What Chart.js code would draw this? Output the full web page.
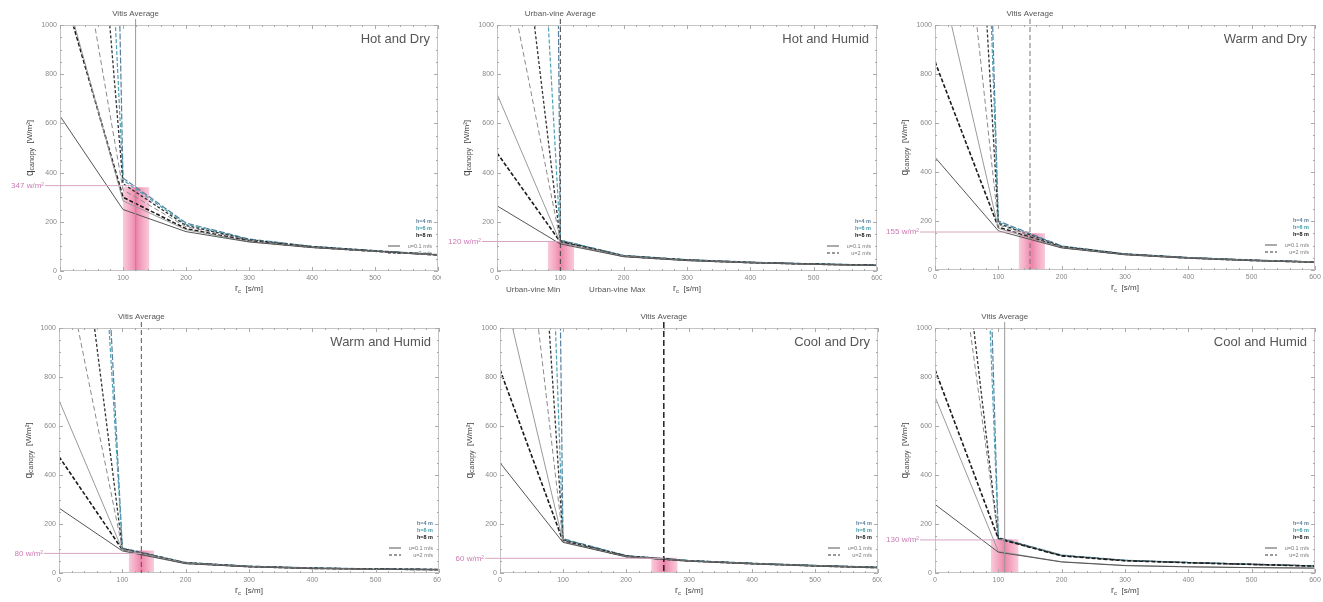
<!DOCTYPE html>
<html>
<head>
<meta charset="utf-8">
<script src="https://cdn.jsdelivr.net/npm/chart.js@4.4.1/dist/chart.umd.min.js"></script>
<style>
  body { margin: 0; background: #fff; }
  #wrap { position: relative; width: 1323px; height: 602px; }
  #wrap canvas { position: absolute; }
</style>
</head>
<body>
<div id="wrap"></div>
<script>
// r_c values where every curve is sampled [s/m]
const rc = [0, 100, 200, 300, 400, 500, 600];

const panelTitles = ["Hot and Dry", "Hot and Humid", "Warm and Dry", "Warm and Humid", "Cool and Dry", "Cool and Humid"];
const avgLabels = ["Vitis Average", "Urban-vine Average", "Vitis Average", "Vitis Average", "Vitis Average", "Vitis Average"];
const avgRc = [120, 100, 150, 130, 260, 110];
const qRef = [347, 120, 155, 80, 60, 135];
const qRefLabels = ["347 w/m²", "120 w/m²", "155 w/m²", "80 w/m²", "60 w/m²", "130 w/m²"];
const bandLo = [100, 80, 132, 110, 240, 88];
const bandHi = [142, 122, 174, 150, 282, 132];
const bandTop = [340, 118, 150, 92, 62, 138];
const legendH = ["h=4 m", "h=6 m", "h=8 m"];
const legendU = ["u=0.1 m/s", "u=2 m/s"];

// q_canopy [W/m²] per curve, at the rc values above
const hotDry = [
  [630, 250, 160, 118, 95, 80, 65],
  [1214, 285, 168, 120, 96, 80, 65],
  [1186, 300, 172, 122, 97, 80, 65],
  [1819, 330, 180, 125, 98, 81, 66],
  [3429, 355, 185, 127, 99, 82, 66],
  [5620, 370, 190, 128, 100, 82, 67],
  [12800, 378, 195, 130, 100, 83, 67]
];
const hotHumid = [
  [265, 110, 58, 42, 33, 27, 22],
  [720, 115, 60, 43, 34, 27, 22],
  [480, 118, 60, 44, 34, 28, 23],
  [1433, 120, 61, 45, 35, 28, 23],
  [2266, 122, 62, 45, 35, 28, 23],
  [4740, 125, 63, 46, 36, 29, 24],
  [29300, 125, 63, 46, 36, 29, 24]
];
const warmDry = [
  [460, 160, 90, 62, 48, 38, 31],
  [1292, 170, 92, 63, 49, 39, 32],
  [850, 175, 93, 64, 49, 39, 32],
  [2582, 185, 95, 65, 50, 40, 32],
  [4690, 190, 96, 65, 50, 40, 33],
  [7510, 195, 97, 66, 51, 40, 33],
  [9090, 200, 98, 66, 51, 41, 33]
];
const warmHumid = [
  [265, 90, 38, 25, 18, 15, 13],
  [705, 95, 40, 26, 19, 15, 13],
  [475, 95, 40, 26, 19, 16, 14],
  [1387, 98, 41, 27, 20, 16, 14],
  [2150, 100, 42, 27, 20, 16, 14],
  [4390, 100, 42, 28, 20, 16, 14],
  [5100, 102, 43, 28, 21, 17, 15]
];
const coolDry = [
  [450, 125, 66, 48, 37, 28, 21],
  [1218, 128, 67, 49, 38, 29, 22],
  [830, 130, 68, 49, 38, 29, 22],
  [2356, 133, 69, 50, 39, 30, 23],
  [4064, 136, 70, 50, 39, 30, 23],
  [7325, 138, 70, 51, 40, 31, 24],
  [21650, 140, 71, 51, 40, 31, 24]
];
const coolHumid = [
  [280, 85, 45, 30, 25, 22, 20],
  [720, 88, 46, 31, 26, 22, 20],
  [830, 140, 70, 50, 42, 35, 28],
  [2051, 140, 70, 50, 42, 35, 28],
  [2345, 142, 71, 51, 42, 35, 29],
  [6740, 142, 72, 52, 43, 36, 29],
  [8720, 145, 73, 52, 43, 36, 29]
];
const panelSeries = [hotDry, hotHumid, warmDry, warmHumid, coolDry, coolHumid];

// look of each curve (same order in every panel)
const lineStyles = [
  { color: "#555", width: 1, dash: [] },
  { color: "#9a9a9a", width: 1, dash: [] },
  { color: "#1a1a1a", width: 1.6, dash: [4, 2] },
  { color: "#8a8a8a", width: 1, dash: [5, 3] },
  { color: "#333", width: 1.3, dash: [3, 2] },
  { color: "#4aa3b5", width: 1.2, dash: [4, 2] },
  { color: "#5a7f9c", width: 1.2, dash: [6, 2] }
];
const vlineStyles = [
  { color: "#999", width: 1, dash: [] },
  { color: "#444", width: 1, dash: [5, 3] },
  { color: "#777", width: 1, dash: [5, 3] },
  { color: "#555", width: 1, dash: [5, 3] },
  { color: "#222", width: 1.5, dash: [6, 3] },
  { color: "#999", width: 1, dash: [] }
];
// plot boxes on the page: left, right, top, bottom
const boxes = [
  [60, 438, 25, 271], [497, 877, 25, 271], [935, 1315, 25, 270],
  [59, 439, 328, 573], [500, 878, 328, 573], [935, 1315, 328, 573]
];

const FONT = "'Liberation Sans', Arial, sans-serif";
const Y_W = 22, X_H = 14;

function decor(i) {
  return {
    id: "decor" + i,
    afterDraw(chart) {
      const ctx = chart.ctx;
      const { left: l, right: r, top: t, bottom: b } = chart.chartArea;
      const xs = chart.scales.x, ys = chart.scales.y;
      ctx.save();

      // frame and inward ticks
      ctx.strokeStyle = "#c4c4c4";
      ctx.lineWidth = 1;
      ctx.strokeRect(l + 0.5, t + 0.5, r - l - 1, b - t - 1);
      ctx.strokeStyle = "#aaa";
      ctx.beginPath();
      for (let v = 0; v <= 600; v += 20) {
        const px = Math.round(xs.getPixelForValue(v)) + 0.5;
        const len = v % 100 === 0 ? 4 : 2;
        ctx.moveTo(px, b); ctx.lineTo(px, b - len);
        ctx.moveTo(px, t); ctx.lineTo(px, t + len);
      }
      for (let v = 0; v <= 1000; v += 50) {
        const py = Math.round(ys.getPixelForValue(v)) + 0.5;
        const len = v % 200 === 0 ? 4 : 2;
        ctx.moveTo(l, py); ctx.lineTo(l + len, py);
        ctx.moveTo(r, py); ctx.lineTo(r - len, py);
      }
      ctx.stroke();

      // average line with its label
      const vx = xs.getPixelForValue(avgRc[i]);
      const vs = vlineStyles[i];
      ctx.strokeStyle = vs.color;
      ctx.lineWidth = vs.width;
      ctx.setLineDash(vs.dash);
      ctx.beginPath();
      ctx.moveTo(vx, t - 6); ctx.lineTo(vx, b);
      ctx.stroke();
      ctx.setLineDash([]);
      ctx.fillStyle = "#555";
      ctx.font = "8px " + FONT;
      ctx.textAlign = "center";
      ctx.textBaseline = "middle";
      ctx.fillText(avgLabels[i], vx, t - 11);

      // reference q line with its label
      const hy = ys.getPixelForValue(qRef[i]);
      ctx.strokeStyle = "#d6a6bf";
      ctx.lineWidth = 1;
      ctx.beginPath();
      ctx.moveTo(l - 15, hy); ctx.lineTo(vx, hy);
      ctx.stroke();
      ctx.fillStyle = "#cc7ab4";
      ctx.font = "8px " + FONT;
      ctx.textAlign = "right";
      ctx.fillText(qRefLabels[i], l - 16, hy);

      // panel title
      ctx.fillStyle = "#555";
      ctx.font = "13px " + FONT;
      ctx.textAlign = "right";
      ctx.fillText(panelTitles[i], r - 8, t + 14);

      // legend
      const hColors = ["#5a7f9c", "#3e9aa8", "#111"];
      ctx.font = "bold 5.5px " + FONT;
      legendH.forEach((s, k) => {
        ctx.fillStyle = hColors[k];
        ctx.fillText(s, r - 6, b - 50 + k * 7);
      });
      ctx.font = "5.5px " + FONT;
      legendU.forEach((s, k) => {
        const ly = b - 25 + k * 7;
        ctx.strokeStyle = k === 0 ? "#555" : "#333";
        ctx.setLineDash(k === 0 ? [] : [3, 2]);
        ctx.beginPath();
        ctx.moveTo(r - 50, ly); ctx.lineTo(r - 38, ly);
        ctx.stroke();
        ctx.setLineDash([]);
        ctx.fillStyle = "#777";
        ctx.fillText(s, r - 6, ly);
      });

      // x axis title: r_c [s/m]
      ctx.fillStyle = "#444";
      ctx.textAlign = "left";
      const xt = [["r", "9px ", 0], ["c", "6px ", 2], ["  [s/m]", "8px ", 0]];
      let tw = 0;
      xt.forEach(p => { ctx.font = p[1] + FONT; tw += ctx.measureText(p[0]).width; });
      let px = (l + r) / 2 - tw / 2;
      xt.forEach(p => {
        ctx.font = p[1] + FONT;
        ctx.fillText(p[0], px, b + 18 + p[2]);
        px += ctx.measureText(p[0]).width;
      });

      // y axis title: q_canopy [W/m²]
      ctx.translate(l - 30, (t + b) / 2);
      ctx.rotate(-Math.PI / 2);
      const yt = [["q", "10px ", 0], ["canopy", "7px ", 2.5], ["  [W/m²]", "8px ", 0]];
      tw = 0;
      yt.forEach(p => { ctx.font = p[1] + FONT; tw += ctx.measureText(p[0]).width; });
      px = -tw / 2;
      yt.forEach(p => {
        ctx.font = p[1] + FONT;
        ctx.fillText(p[0], px, p[2]);
        px += ctx.measureText(p[0]).width;
      });
      ctx.restore();

      if (i === 1) {
        ctx.save();
        ctx.fillStyle = "#555";
        ctx.font = "8px " + FONT;
        ctx.textAlign = "center";
        ctx.textBaseline = "middle";
        ctx.fillText("Urban-vine Min", xs.getPixelForValue(57), b + 19);
        ctx.fillText("Urban-vine Max", xs.getPixelForValue(190), b + 19);
        ctx.restore();
      }
    }
  };
}

function makePanel(i) {
  const cx = (i % 3) * 441, cy = Math.floor(i / 3) * 301;
  const [L, R, T, B] = boxes[i];
  const canvas = document.createElement("canvas");
  canvas.width = 441;
  canvas.height = 301;
  canvas.style.left = cx + "px";
  canvas.style.top = cy + "px";
  document.getElementById("wrap").appendChild(canvas);

  const datasets = panelSeries[i].map((vals, k) => ({
    data: rc.map((x, j) => ({ x: x, y: vals[j] })),
    borderColor: lineStyles[k].color,
    borderWidth: lineStyles[k].width,
    borderDash: lineStyles[k].dash,
    pointRadius: 0,
    fill: false,
    tension: 0,
    order: 1
  }));
  // pink range band
  datasets.unshift({
    data: [{ x: bandLo[i], y: bandTop[i] }, { x: bandHi[i], y: bandTop[i] }],
    fill: "origin",
    borderWidth: 0,
    pointRadius: 0,
    order: 5,
    backgroundColor: function (c) {
      const ch = c.chart;
      if (!ch.chartArea) return "rgba(240,120,160,0.5)";
      const xs = ch.scales.x;
      const g = ch.ctx.createLinearGradient(xs.getPixelForValue(bandLo[i]), 0, xs.getPixelForValue(bandHi[i]), 0);
      g.addColorStop(0, "rgba(243,150,182,0.5)");
      g.addColorStop(0.5, "rgba(232,90,140,0.75)");
      g.addColorStop(1, "rgba(243,150,182,0.5)");
      return g;
    }
  });

  new Chart(canvas, {
    type: "line",
    data: { datasets: datasets },
    options: {
      responsive: false,
      animation: false,
      devicePixelRatio: 1,
      layout: {
        padding: {
          left: L - cx - Y_W,
          right: cx + 441 - R,
          top: T - cy,
          bottom: cy + 301 - B - X_H
        }
      },
      plugins: { legend: { display: false }, tooltip: { enabled: false } },
      scales: {
        x: {
          type: "linear",
          min: 0,
          max: 600,
          afterFit: s => { s.height = X_H; s.paddingLeft = 0; s.paddingRight = 0; },
          grid: { display: false, drawTicks: false },
          border: { display: false },
          ticks: { stepSize: 100, color: "#888", font: { size: 7, family: FONT }, padding: 3, maxRotation: 0, callback: v => String(v) }
        },
        y: {
          min: 0,
          max: 1000,
          afterFit: s => { s.width = Y_W; s.paddingTop = 0; s.paddingBottom = 0; },
          grid: { display: false, drawTicks: false },
          border: { display: false },
          ticks: { stepSize: 200, color: "#888", font: { size: 7, family: FONT }, padding: 3, callback: v => String(v) }
        }
      }
    },
    plugins: [decor(i)]
  });
}

for (let i = 0; i < 6; i++) makePanel(i);
</script>
</body>
</html>
